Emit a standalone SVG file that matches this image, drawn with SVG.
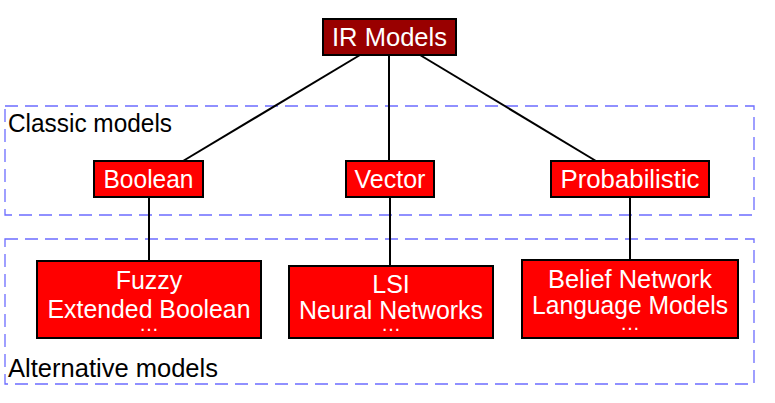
<svg xmlns="http://www.w3.org/2000/svg" width="775" height="403" viewBox="0 0 775 403">
<style>
.grp{fill:none;stroke:#6c6cff;stroke-width:1.3;stroke-dasharray:13 7}
.box{fill:#ff0000;stroke:#000;stroke-width:2}
.root{fill:#990000;stroke:#000;stroke-width:2}
.t{font-family:"Liberation Sans",Arial,sans-serif;font-size:25px;fill:#fff;text-anchor:middle}
.dots{font-family:"Liberation Sans",Arial,sans-serif;font-size:20px;fill:#fff;text-anchor:middle}
.lbl{font-family:"Liberation Sans",Arial,sans-serif;font-size:25px;fill:#000}
.conn line{stroke:#000;stroke-width:2}
</style>
<rect width="775" height="403" fill="#fff"/>
<g id="classic-group">
<rect class="grp" x="5" y="106" width="749" height="109"/>
<text class="lbl" x="8" y="132" textLength="164" lengthAdjust="spacingAndGlyphs">Classic models</text>
</g>
<g id="alternative-group">
<rect class="grp" x="5" y="239" width="749" height="145"/>
<text class="lbl" x="8" y="377" textLength="210" lengthAdjust="spacingAndGlyphs">Alternative models</text>
</g>
<g id="connectors" class="conn">
<line x1="360" y1="55" x2="183" y2="161"/>
<line x1="389" y1="55" x2="389" y2="161"/>
<line x1="420" y1="55" x2="596" y2="161"/>
<line x1="149" y1="197" x2="149" y2="261"/>
<line x1="390" y1="197" x2="390" y2="266"/>
<line x1="630" y1="197" x2="630" y2="260"/>
</g>
<g id="ir-models">
<rect class="root" x="323" y="19" width="133" height="36"/>
<text class="t" x="389.5" y="46" textLength="115" lengthAdjust="spacingAndGlyphs">IR Models</text>
</g>
<g id="boolean">
<rect class="box" x="94" y="161" width="109" height="36"/>
<text class="t" x="148.5" y="188" textLength="90" lengthAdjust="spacingAndGlyphs">Boolean</text>
</g>
<g id="vector">
<rect class="box" x="346" y="161" width="88" height="36"/>
<text class="t" x="390" y="188">Vector</text>
</g>
<g id="probabilistic">
<rect class="box" x="551" y="161" width="158" height="36"/>
<text class="t" x="630" y="188" textLength="139" lengthAdjust="spacingAndGlyphs">Probabilistic</text>
</g>
<g id="fuzzy">
<rect class="box" x="37" y="261" width="224" height="77"/>
<text class="t" x="149" y="289">Fuzzy</text>
<text class="t" x="149" y="318" textLength="203" lengthAdjust="spacingAndGlyphs">Extended Boolean</text>
<text class="dots" x="149" y="331">…</text>
</g>
<g id="lsi">
<rect class="box" x="289" y="266" width="204" height="72"/>
<text class="t" x="391" y="293">LSI</text>
<text class="t" x="391" y="319" textLength="184" lengthAdjust="spacingAndGlyphs">Neural Networks</text>
<text class="dots" x="391" y="331">…</text>
</g>
<g id="belief">
<rect class="box" x="522" y="260" width="216" height="78"/>
<text class="t" x="630" y="288" textLength="164" lengthAdjust="spacingAndGlyphs">Belief Network</text>
<text class="t" x="630" y="314" textLength="196" lengthAdjust="spacingAndGlyphs">Language Models</text>
<text class="dots" x="630" y="330">…</text>
</g>
</svg>
